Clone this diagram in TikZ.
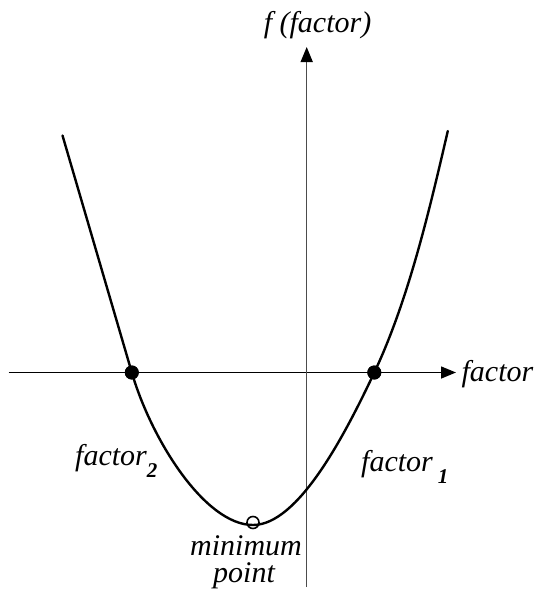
\documentclass[tikz,border=0pt]{standalone}
\usepackage{fontspec}
\newfontfamily\timesit{Liberation Serif Italic}
\newfontfamily\timesbi{Liberation Serif Bold Italic}
\usetikzlibrary{arrows.meta}

\begin{document}
\begin{tikzpicture}[x=1pt, y=-1pt, >={Triangle[length=15pt,width=12pt,color=black]},
  lbl/.style={font=\fontsize{30}{24}\selectfont\timesit, inner sep=0pt},
  dot/.style={circle, fill=black, minimum size=14pt, inner sep=0pt},
  hollow/.style={circle, draw=black, line width=1.6pt, minimum size=12pt, inner sep=0pt},
  axis/.style={->, line width=1.5pt},
  curve/.style={line width=2.4pt, line join=round, line cap=round}
]
\newcommand{\subnum}[1]{\raisebox{-12pt}{\fontsize{21}{21}\selectfont\timesbi #1}}
\useasboundingbox (0,0) rectangle (540,589);
% axes
\coordinate (xl) at (8.6,372.5);
\coordinate (xr) at (456,372.5);
\coordinate (yb) at (306.7,587);
\coordinate (yt) at (306.7,47);
\draw[axis] (xl) -- (xr);
\draw[axis, draw=black!70] (yb) -- (yt);
% the curve
\coordinate (cl) at (62.5,135.5);
\coordinate (cv) at (253,525);
\coordinate (cr) at (447.8,131);
\node[dot] (r2) at (131.8,372.5) {};
\node[dot] (r1) at (374.3,372.5) {};
\draw[curve] (cl) -- (r2.center)
  .. controls (151.4,439.7) and (205,525) .. (cv)
  .. controls (298,525) and (344.4,435.9) .. (r1.center)
  .. controls (408.5,300.1) and (429.7,208.9) .. (cr);
\node[dot] at (r2) {};
\node[dot] at (r1) {};
\node[hollow] (mp) at (253,522.5) {};
% labels
\node[lbl, anchor=base] (ylab) at (317.5,32) {f (factor)};
\node[lbl, anchor=base west] (xlab) at (461.4,381) {factor};
\node[lbl, anchor=base west] (f2) at (75,465) {factor\subnum{2}};
\node[lbl, anchor=base west] (f1) at (361,471.7) {factor\hspace{5pt}\subnum{1}};
\node[lbl, anchor=base] (mt1) at (246,555) {minimum};
\node[lbl, anchor=base] (mt2) at (244,582) {point};
\end{tikzpicture}
\end{document}
